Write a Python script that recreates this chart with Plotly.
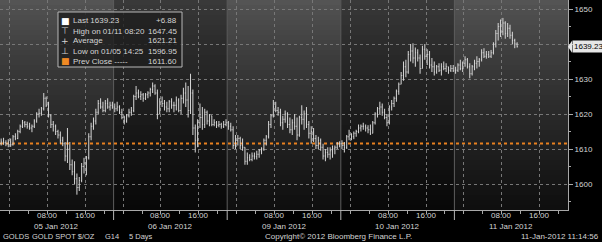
import plotly.graph_objects as go

# ---------------- data (30-minute bars, session day starts 22:00 previous evening) ----------------
days = ["05 Jan 2012", "06 Jan 2012", "09 Jan 2012", "10 Jan 2012", "11 Jan 2012"]
hour_labels = ["08:00", "16:00"]
prev_close = 1611.60

d1_high = [1613.0, 1613.2, 1612.5, 1612.8, 1613.0, 1614.0, 1614.5, 1615.5, 1617.0, 1618.3, 1618.0, 1617.8,
           1617.5, 1617.0, 1618.5, 1620.5, 1621.5, 1622.0, 1626.0, 1625.0, 1623.5, 1620.0, 1618.0, 1617.0,
           1615.5, 1615.0, 1613.5, 1612.0, 1616.0, 1612.0, 1607.0, 1606.5, 1603.0, 1602.0, 1606.0, 1607.5,
           1608.0, 1614.5, 1617.5, 1619.0, 1621.5, 1624.0, 1624.5, 1623.5, 1624.0, 1624.5, 1623.5, 1623.5]
d1_low = [1611.0, 1611.2, 1610.8, 1610.5, 1610.6, 1611.0, 1612.5, 1612.8, 1614.5, 1616.0, 1616.2, 1615.8,
          1615.5, 1614.8, 1616.0, 1617.5, 1619.0, 1619.5, 1621.0, 1622.0, 1619.0, 1616.0, 1615.0, 1614.0,
          1613.0, 1611.5, 1610.8, 1606.5, 1606.0, 1604.0, 1602.5, 1600.0, 1596.95, 1598.0, 1600.5, 1603.0,
          1602.5, 1607.0, 1612.5, 1615.5, 1617.0, 1620.0, 1621.5, 1620.5, 1620.5, 1621.5, 1621.0, 1621.5]
d1_close = [1612.0, 1611.8, 1611.5, 1612.0, 1611.2, 1613.5, 1613.0, 1615.0, 1616.5, 1617.5, 1617.0, 1616.5,
            1616.0, 1616.5, 1618.0, 1620.0, 1620.2, 1621.5, 1624.5, 1622.5, 1619.5, 1617.0, 1616.5, 1615.0,
            1614.0, 1612.5, 1611.5, 1608.0, 1610.0, 1605.5, 1603.5, 1601.5, 1599.0, 1601.0, 1605.0, 1606.0,
            1607.5, 1613.5, 1616.5, 1618.0, 1620.5, 1623.0, 1622.0, 1621.0, 1623.0, 1622.0, 1622.5, 1622.0]

d2_high = [1623.0, 1623.5, 1622.5, 1621.5, 1619.5, 1620.0, 1621.5, 1622.0, 1625.5, 1628.0, 1627.0, 1626.5,
           1626.0, 1626.0, 1626.5, 1627.5, 1629.0, 1628.5, 1627.0, 1624.5, 1625.0, 1624.0, 1623.5, 1624.0,
           1624.5, 1623.5, 1625.0, 1624.5, 1625.5, 1627.5, 1629.0, 1628.0, 1631.5, 1627.0, 1617.0, 1618.5,
           1623.0, 1622.0, 1621.5, 1621.0, 1620.0, 1619.5, 1618.5, 1618.0, 1618.0, 1617.5, 1618.0, 1618.5]
d2_low = [1620.5, 1620.8, 1620.0, 1618.5, 1617.0, 1617.5, 1619.0, 1619.5, 1620.5, 1624.0, 1624.5, 1624.0,
          1623.5, 1624.0, 1624.5, 1625.0, 1626.0, 1625.5, 1618.5, 1620.0, 1622.0, 1621.0, 1620.5, 1620.5,
          1621.5, 1620.5, 1621.0, 1620.5, 1620.0, 1623.0, 1622.0, 1619.0, 1620.0, 1614.0, 1609.0, 1610.5,
          1616.0, 1615.5, 1616.0, 1617.0, 1616.5, 1616.5, 1616.5, 1616.0, 1616.2, 1615.8, 1616.0, 1616.5]
d2_close = [1621.5, 1622.0, 1620.5, 1619.0, 1618.0, 1619.5, 1620.5, 1621.0, 1625.0, 1626.0, 1625.0, 1625.5,
            1624.5, 1625.5, 1626.0, 1627.0, 1628.0, 1626.0, 1620.0, 1623.5, 1623.0, 1622.0, 1621.5, 1623.5,
            1622.5, 1622.5, 1624.0, 1621.0, 1624.5, 1626.0, 1624.0, 1621.0, 1626.0, 1616.0, 1612.5, 1617.5,
            1619.0, 1617.0, 1620.5, 1618.0, 1619.5, 1617.0, 1617.5, 1616.8, 1617.0, 1616.5, 1617.0, 1617.5]

d3_high = [1618.0, 1617.5, 1616.5, 1614.0, 1614.0, 1613.5, 1613.0, 1610.5, 1609.0, 1608.5, 1609.0, 1609.0,
           1609.5, 1610.0, 1610.5, 1613.0, 1614.0, 1618.0, 1620.0, 1624.0, 1623.5, 1622.0, 1621.5, 1619.5,
           1621.0, 1620.5, 1619.0, 1618.5, 1620.0, 1619.0, 1619.5, 1622.5, 1621.0, 1622.0, 1618.0, 1616.5,
           1616.0, 1614.0, 1613.5, 1613.0, 1611.5, 1610.0, 1610.5, 1610.5, 1611.0, 1611.0, 1612.0, 1612.2]
d3_low = [1615.5, 1615.0, 1610.0, 1610.0, 1611.0, 1610.0, 1609.5, 1605.5, 1605.5, 1606.5, 1606.5, 1607.0,
          1607.0, 1607.5, 1608.5, 1609.5, 1611.0, 1613.0, 1616.0, 1619.0, 1620.5, 1619.5, 1616.5, 1615.5,
          1617.5, 1616.0, 1614.5, 1614.0, 1615.5, 1612.5, 1613.5, 1617.0, 1615.5, 1616.0, 1613.0, 1611.5,
          1612.0, 1610.0, 1610.0, 1609.5, 1607.0, 1606.5, 1607.5, 1607.0, 1607.5, 1608.5, 1610.0, 1610.5]
d3_close = [1616.5, 1615.5, 1611.0, 1612.5, 1613.0, 1611.0, 1610.5, 1606.5, 1607.5, 1607.0, 1608.0, 1607.8,
            1608.5, 1609.5, 1610.0, 1612.5, 1613.5, 1617.0, 1619.5, 1622.0, 1621.0, 1620.5, 1617.5, 1618.5,
            1620.0, 1617.0, 1615.5, 1617.5, 1616.5, 1614.0, 1619.0, 1618.5, 1620.0, 1617.0, 1614.5, 1615.0,
            1613.0, 1611.0, 1612.5, 1610.5, 1608.0, 1609.0, 1608.5, 1609.5, 1610.0, 1610.5, 1611.5, 1611.5]

d4_high = [1612.5, 1612.0, 1614.0, 1615.5, 1614.5, 1615.0, 1615.5, 1617.0, 1617.0, 1617.5, 1617.0, 1616.8,
           1617.0, 1618.0, 1620.5, 1622.0, 1623.5, 1623.0, 1621.5, 1620.0, 1622.5, 1624.0, 1625.0, 1627.0,
           1629.0, 1632.0, 1635.0, 1635.5, 1638.0, 1640.0, 1640.2, 1639.0, 1638.5, 1637.0, 1639.5, 1640.0,
           1638.5, 1638.0, 1636.0, 1635.0, 1634.0, 1634.5, 1634.5, 1635.0, 1634.5, 1633.5, 1634.0, 1634.0]
d4_low = [1610.0, 1609.0, 1610.0, 1612.5, 1612.5, 1612.8, 1613.5, 1614.5, 1615.0, 1615.5, 1615.0, 1614.5,
          1614.0, 1614.5, 1617.0, 1619.0, 1620.0, 1619.5, 1618.5, 1616.5, 1617.0, 1621.0, 1622.0, 1623.5,
          1625.5, 1628.5, 1629.5, 1630.5, 1631.5, 1635.0, 1634.5, 1633.5, 1635.0, 1631.5, 1633.0, 1635.5,
          1634.0, 1633.0, 1632.0, 1631.0, 1631.5, 1632.0, 1631.0, 1632.5, 1632.0, 1631.5, 1632.0, 1632.0]
d4_close = [1611.0, 1610.5, 1613.5, 1614.0, 1613.5, 1614.5, 1615.0, 1616.0, 1616.5, 1616.5, 1616.0, 1615.5,
            1614.5, 1617.5, 1620.0, 1621.5, 1622.0, 1620.5, 1619.0, 1617.5, 1622.0, 1623.0, 1624.5, 1626.5,
            1628.5, 1631.0, 1633.5, 1632.0, 1637.0, 1638.0, 1636.0, 1637.5, 1636.0, 1633.0, 1638.5, 1636.5,
            1637.0, 1634.0, 1633.5, 1632.0, 1633.5, 1632.5, 1633.5, 1633.0, 1633.5, 1632.5, 1633.0, 1632.35]

d5_high = [1633.5, 1634.5, 1635.5, 1635.0, 1636.5, 1636.0, 1634.5, 1634.0, 1635.5, 1636.5, 1636.0, 1638.5,
           1638.8, 1638.0, 1638.0, 1638.3, 1640.5, 1644.0, 1646.0, 1647.0, 1647.45, 1646.5, 1646.0, 1645.5,
           1643.5, 1641.5, 1640.5]
d5_low = [1631.5, 1632.0, 1632.5, 1632.0, 1633.5, 1633.0, 1630.2, 1631.0, 1632.5, 1633.0, 1633.5, 1635.0,
          1636.0, 1635.8, 1636.0, 1636.0, 1637.0, 1639.0, 1641.0, 1642.0, 1642.5, 1641.5, 1642.0, 1641.5,
          1640.0, 1638.8, 1639.0]
d5_close = [1632.5, 1634.0, 1633.0, 1634.5, 1635.5, 1633.5, 1631.5, 1633.5, 1634.5, 1635.0, 1635.5, 1637.5,
            1636.5, 1637.0, 1636.5, 1637.5, 1640.0, 1643.0, 1645.0, 1643.5, 1646.0, 1643.0, 1644.5, 1642.5,
            1641.0, 1640.0, 1639.23]

legend_labels = ["Last 1639.23", "High on 01/11 08:20", "Average", "Low on 01/05 14:25", "Prev Close -----"]
legend_values = ["+6.88", "1647.45", "1621.21", "1596.95", "1611.60"]
y_ticks = [1600, 1610, 1620, 1630, 1640, 1650]

# ---------------- assemble bars ----------------
highs, lows, closes, xs = [], [], [], []
for d, (h, l, c) in enumerate([(d1_high, d1_low, d1_close), (d2_high, d2_low, d2_close),
                               (d3_high, d3_low, d3_close), (d4_high, d4_low, d4_close),
                               (d5_high, d5_low, d5_close)]):
    for i in range(len(c)):
        xs.append(d * 24 + 0.25 + 0.5 * i)
        highs.append(h[i]); lows.append(l[i]); closes.append(c[i])
opens = [prev_close] + closes[:-1]
last = closes[-1]

W, H = 602, 242
ML, MR, MT, MB = 0, 34, 0, 32
PW, PH = W - ML - MR, H - MT - MB
def px(x): return (x - ML) / PW
def py(y): return 1 - (y - MT) / PH

FONT = "Liberation Sans"
fig = go.Figure()

# background gradient bands per day
NB = 42
light_top, light_bot = (86, 86, 86), (14, 14, 14)
dark_top, dark_bot = (58, 58, 58), (8, 8, 8)
for d in range(len(days)):
    top, bot = (light_top, light_bot) if d % 2 == 0 else (dark_top, dark_bot)
    for k in range(NB):
        t = (k + 0.5) / NB
        t2 = t ** 0.8
        col = tuple(int(round(top[j] * (1 - t2) + bot[j] * t2)) for j in range(3))
        fig.add_shape(type="rect", xref="x", yref="paper", x0=d * 24, x1=(d + 1) * 24,
                      y0=1 - (k + 1) / NB - 0.002, y1=1 - k / NB,
                      fillcolor="rgb(%d,%d,%d)" % col, line_width=0, layer="below")

# day separators
for d in range(1, len(days)):
    fig.add_shape(type="line", xref="paper", yref="paper", x0=d * 24 / 120, x1=d * 24 / 120,
                  y0=0, y1=1, line=dict(color="#5e5e5e", width=1), layer="between")
    fig.add_shape(type="line", xref="paper", yref="paper", x0=d * 24 / 120, x1=d * 24 / 120,
                  y0=py(220), y1=0, line=dict(color="#b4b4b4", width=1), layer="above")

# prev close line
fig.add_shape(type="line", xref="paper", yref="y", x0=0, x1=1, y0=prev_close, y1=prev_close,
              line=dict(color="#e8801f", width=2, dash="dot"), layer="between")

fig.add_trace(go.Ohlc(x=xs, open=opens, high=highs, low=lows, close=closes,
                      increasing=dict(line=dict(color="#d6d6d6", width=1)),
                      decreasing=dict(line=dict(color="#d6d6d6", width=1)),
                      tickwidth=0.3, hoverinfo="skip", showlegend=False))

# x ticks (gridlines at 00:00, 08:00, 16:00; labels drawn as annotations)
tv = []
for d in range(len(days)):
    tv += [d * 24 + 2, d * 24 + 10, d * 24 + 18]

fig.update_xaxes(range=[0, 120], tickmode="array", tickvals=tv, ticktext=[""] * len(tv),
                 showgrid=True, gridcolor="#777777", griddash="dot", gridwidth=1,
                 showline=True, linecolor="#a8a8a8", linewidth=1,
                 ticks="outside", ticklen=3, tickcolor="#a8a8a8",
                 minor=dict(tickmode="linear", tick0=2, dtick=4, ticks="outside", ticklen=3,
                            tickcolor="#a8a8a8", showgrid=False),
                 rangeslider=dict(visible=False), zeroline=False, fixedrange=True)

fig.update_yaxes(side="right", range=[1650 - (PH - 9) / 3.5, 1650 + 9 / 3.5],
                 tickmode="array", tickvals=y_ticks,
                 ticktext=[str(v) if v != 1640 else "" for v in y_ticks],
                 showgrid=True, gridcolor="#777777", griddash="dot", gridwidth=1,
                 showline=True, linecolor="#a8a8a8", linewidth=1,
                 ticks="outside", ticklen=4, tickcolor="#a8a8a8",
                 tickfont=dict(family=FONT, size=8, color="#d4d4d4"),
                 minor=dict(tickmode="linear", tick0=1595, dtick=5, ticks="outside", ticklen=2,
                            tickcolor="#a8a8a8", showgrid=False),
                 zeroline=False, fixedrange=True)

ann = []
def text(x, y, s, anchor="left", color="#d4d4d4", size=8, family=FONT):
    ann.append(dict(xref="paper", yref="paper", x=px(x), y=py(y), text=s, showarrow=False,
                    xanchor=anchor, yanchor="middle", font=dict(family=family, size=size, color=color)))

def xdata(v, yy, s, size=8):
    ann.append(dict(xref="x", yref="paper", x=v, y=py(yy), text=s, showarrow=False,
                    xanchor="center", yanchor="middle", font=dict(family=FONT, size=size, color="#d4d4d4")))

# hour and date labels
for d, lab in enumerate(days):
    xdata(d * 24 + 10, 215.5, hour_labels[0])
    xdata(d * 24 + 18, 215.5, hour_labels[1])
    xdata(d * 24 + 12, 226.5, lab)

# footer
text(1, 236.5, "GOLDS", size=7.5)
text(30, 236.5, "GOLD SPOT $/OZ", size=7.5)
text(103, 236.5, "G14", size=7.5)
text(127, 236.5, "5 Days", size=7.5)
text(263, 236.5, "Copyright© 2012 Bloomberg Finance L.P.")
text(601, 236.5, "11-Jan-2012 11:14:56", anchor="right")

# legend box
fig.add_shape(type="rect", xref="paper", yref="paper", x0=px(58), x1=px(182), y0=py(67), y1=py(12),
              fillcolor="rgba(30,30,30,0.8)", line=dict(color="#b8b8b8", width=1), layer="above")
icons = [("■", "#ffffff"), ("⊤", "#d4d4d4"), ("+", "#d4d4d4"), ("⊥", "#d4d4d4"), ("■", "#f08a24")]
for i, (lab, val) in enumerate(zip(legend_labels, legend_values)):
    yy = 21 + 10 * i
    text(65, yy, icons[i][0], anchor="center", color=icons[i][1], size=9, family="DejaVu Sans")
    text(71, yy, lab)
    text(179, yy, val, anchor="right")

# last price tag
fig.add_shape(type="path", xref="paper", yref="y",
              path="M 1 %f L %f %f L %f %f Z" % (last, 1 + 4 / PW, last + 1.7, 1 + 4 / PW, last - 1.7),
              fillcolor="#e6e6e6", line_width=0, layer="above")
ann.append(dict(xref="paper", yref="y", x=1 + 4 / PW, y=last, text="%.2f" % last, showarrow=False,
                xanchor="left", yanchor="middle", bgcolor="#e6e6e6", borderpad=1,
                font=dict(family=FONT, size=8, color="#000000")))

fig.update_layout(width=W, height=H, margin=dict(l=ML, r=MR, t=MT, b=MB),
                  paper_bgcolor="#000000", plot_bgcolor="#000000",
                  annotations=ann, showlegend=False)

fig.write_html("out.html", config={"displayModeBar": False})
